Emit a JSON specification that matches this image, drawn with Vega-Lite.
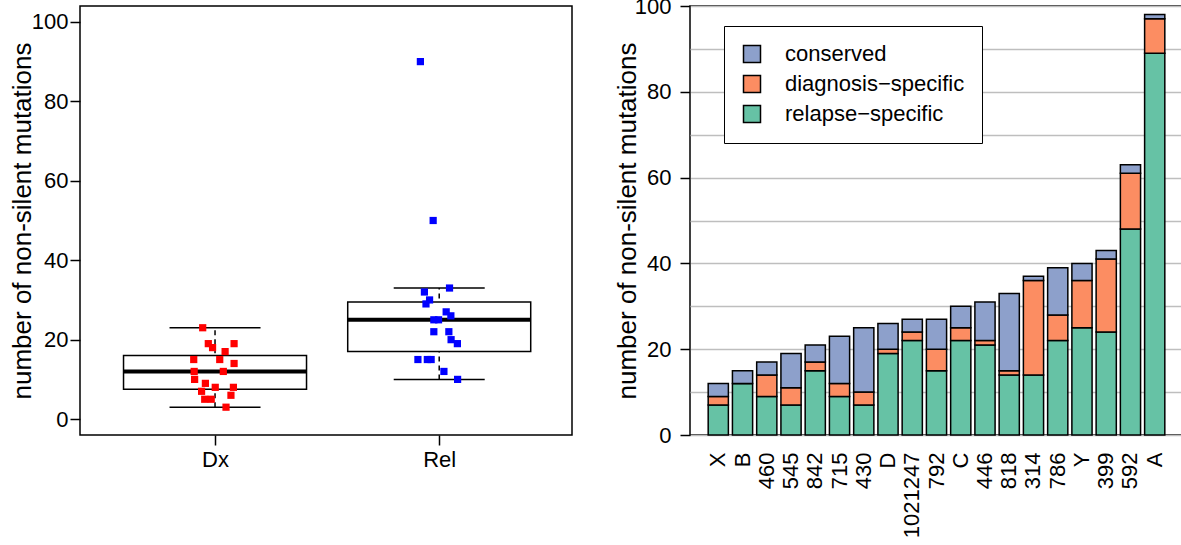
{
  "$schema": "https://vega.github.io/schema/vega-lite/v6.json",
  "background": "white",
  "padding": {"left": 8, "top": -6, "right": 0, "bottom": 0},
  "resolve": {"scale": {"color": "independent"}, "legend": {"color": "independent"}},
  "config": {
    "font": "Liberation Sans",
    "view": {"stroke": "black", "strokeWidth": 1.5},
    "concat": {"spacing": 40},
    "axis": {
      "labelFont": "Liberation Sans", "titleFont": "Liberation Sans",
      "labelFontSize": 22, "titleFontSize": 26, "titleFontWeight": "normal",
      "labelColor": "black", "titleColor": "black",
      "tickColor": "black", "tickSize": 10, "tickWidth": 1.5,
      "domain": false, "grid": false
    },
    "legend": {
      "labelFont": "Liberation Sans", "labelFontSize": 22, "labelColor": "black", "labelLimit": 0
    }
  },
  "datasets": {
    "pts": [
      {"group": "Dx", "x": 0.945, "n": 23}, {"group": "Dx", "x": 0.970, "n": 19},
      {"group": "Dx", "x": 0.989, "n": 18}, {"group": "Dx", "x": 1.085, "n": 19},
      {"group": "Dx", "x": 1.045, "n": 17}, {"group": "Dx", "x": 0.905, "n": 15},
      {"group": "Dx", "x": 1.021, "n": 15}, {"group": "Dx", "x": 1.085, "n": 14},
      {"group": "Dx", "x": 0.907, "n": 12}, {"group": "Dx", "x": 1.037, "n": 12},
      {"group": "Dx", "x": 0.909, "n": 10}, {"group": "Dx", "x": 0.957, "n": 9},
      {"group": "Dx", "x": 0.940, "n": 7}, {"group": "Dx", "x": 1.001, "n": 8},
      {"group": "Dx", "x": 1.082, "n": 8}, {"group": "Dx", "x": 1.071, "n": 6},
      {"group": "Dx", "x": 0.954, "n": 5}, {"group": "Dx", "x": 0.983, "n": 5},
      {"group": "Dx", "x": 1.049, "n": 3},
      {"group": "Rel", "x": 1.916, "n": 90}, {"group": "Rel", "x": 1.973, "n": 50},
      {"group": "Rel", "x": 2.046, "n": 33}, {"group": "Rel", "x": 1.934, "n": 32},
      {"group": "Rel", "x": 1.957, "n": 30}, {"group": "Rel", "x": 1.941, "n": 29},
      {"group": "Rel", "x": 2.031, "n": 27}, {"group": "Rel", "x": 2.052, "n": 26},
      {"group": "Rel", "x": 1.976, "n": 25}, {"group": "Rel", "x": 1.997, "n": 25},
      {"group": "Rel", "x": 1.976, "n": 22}, {"group": "Rel", "x": 2.043, "n": 22},
      {"group": "Rel", "x": 2.053, "n": 20}, {"group": "Rel", "x": 2.081, "n": 19},
      {"group": "Rel", "x": 1.905, "n": 15}, {"group": "Rel", "x": 1.947, "n": 15},
      {"group": "Rel", "x": 1.964, "n": 15}, {"group": "Rel", "x": 2.021, "n": 12},
      {"group": "Rel", "x": 2.082, "n": 10}
    ],
    "box": [
      {"group": "Dx", "x": 1, "lo": 3, "q1": 7.5, "med": 12, "q3": 16, "hi": 23},
      {"group": "Rel", "x": 2, "lo": 10, "q1": 17, "med": 25, "q3": 29.5, "hi": 33}
    ],
    "bars": [
      {"sample": "X", "type": "relapse-specific", "n": 7}, {"sample": "X", "type": "diagnosis-specific", "n": 2}, {"sample": "X", "type": "conserved", "n": 3},
      {"sample": "B", "type": "relapse-specific", "n": 12}, {"sample": "B", "type": "diagnosis-specific", "n": 0}, {"sample": "B", "type": "conserved", "n": 3},
      {"sample": "460", "type": "relapse-specific", "n": 9}, {"sample": "460", "type": "diagnosis-specific", "n": 5}, {"sample": "460", "type": "conserved", "n": 3},
      {"sample": "545", "type": "relapse-specific", "n": 7}, {"sample": "545", "type": "diagnosis-specific", "n": 4}, {"sample": "545", "type": "conserved", "n": 8},
      {"sample": "842", "type": "relapse-specific", "n": 15}, {"sample": "842", "type": "diagnosis-specific", "n": 2}, {"sample": "842", "type": "conserved", "n": 4},
      {"sample": "715", "type": "relapse-specific", "n": 9}, {"sample": "715", "type": "diagnosis-specific", "n": 3}, {"sample": "715", "type": "conserved", "n": 11},
      {"sample": "430", "type": "relapse-specific", "n": 7}, {"sample": "430", "type": "diagnosis-specific", "n": 3}, {"sample": "430", "type": "conserved", "n": 15},
      {"sample": "D", "type": "relapse-specific", "n": 19}, {"sample": "D", "type": "diagnosis-specific", "n": 1}, {"sample": "D", "type": "conserved", "n": 6},
      {"sample": "1021247", "type": "relapse-specific", "n": 22}, {"sample": "1021247", "type": "diagnosis-specific", "n": 2}, {"sample": "1021247", "type": "conserved", "n": 3},
      {"sample": "792", "type": "relapse-specific", "n": 15}, {"sample": "792", "type": "diagnosis-specific", "n": 5}, {"sample": "792", "type": "conserved", "n": 7},
      {"sample": "C", "type": "relapse-specific", "n": 22}, {"sample": "C", "type": "diagnosis-specific", "n": 3}, {"sample": "C", "type": "conserved", "n": 5},
      {"sample": "446", "type": "relapse-specific", "n": 21}, {"sample": "446", "type": "diagnosis-specific", "n": 1}, {"sample": "446", "type": "conserved", "n": 9},
      {"sample": "818", "type": "relapse-specific", "n": 14}, {"sample": "818", "type": "diagnosis-specific", "n": 1}, {"sample": "818", "type": "conserved", "n": 18},
      {"sample": "314", "type": "relapse-specific", "n": 14}, {"sample": "314", "type": "diagnosis-specific", "n": 22}, {"sample": "314", "type": "conserved", "n": 1},
      {"sample": "786", "type": "relapse-specific", "n": 22}, {"sample": "786", "type": "diagnosis-specific", "n": 6}, {"sample": "786", "type": "conserved", "n": 11},
      {"sample": "Y", "type": "relapse-specific", "n": 25}, {"sample": "Y", "type": "diagnosis-specific", "n": 11}, {"sample": "Y", "type": "conserved", "n": 4},
      {"sample": "399", "type": "relapse-specific", "n": 24}, {"sample": "399", "type": "diagnosis-specific", "n": 17}, {"sample": "399", "type": "conserved", "n": 2},
      {"sample": "592", "type": "relapse-specific", "n": 48}, {"sample": "592", "type": "diagnosis-specific", "n": 13}, {"sample": "592", "type": "conserved", "n": 2},
      {"sample": "A", "type": "relapse-specific", "n": 89}, {"sample": "A", "type": "diagnosis-specific", "n": 8}, {"sample": "A", "type": "conserved", "n": 1}
    ]
  },
  "hconcat": [
    {
      "width": 492,
      "height": 429,
      "layer": [
        {
          "data": {"name": "box"},
          "mark": {"type": "rule", "color": "black", "strokeWidth": 1.5, "strokeDash": [5, 4]},
          "encoding": {
            "x": {"field": "x", "type": "quantitative", "title": null,
                  "scale": {"domain": [0.42, 2.57], "nice": false, "zero": false},
                  "axis": {"values": [1, 2], "labelExpr": "datum.value == 1 ? 'Dx' : 'Rel'", "labelPadding": 4, "title": null}},
            "y": {"field": "lo", "type": "quantitative", "title": "number of non-silent mutations",
                  "scale": {"domain": [-4, 104], "nice": false, "zero": false},
                  "axis": {"values": [0, 20, 40, 60, 80, 100], "labelPadding": 2, "titlePadding": -4}},
            "y2": {"field": "hi"}
          }
        },
        {
          "data": {"name": "box"},
          "mark": {"type": "tick", "orient": "horizontal", "size": 91, "thickness": 1.5, "color": "black", "opacity": 1},
          "encoding": {
            "x": {"field": "x", "type": "quantitative", "title": null},
            "y": {"field": "lo", "type": "quantitative", "title": "number of non-silent mutations"}
          }
        },
        {
          "data": {"name": "box"},
          "mark": {"type": "tick", "orient": "horizontal", "size": 91, "thickness": 1.5, "color": "black", "opacity": 1},
          "encoding": {
            "x": {"field": "x", "type": "quantitative", "title": null},
            "y": {"field": "hi", "type": "quantitative", "title": "number of non-silent mutations"}
          }
        },
        {
          "data": {"name": "box"},
          "mark": {"type": "bar", "width": 183, "fill": "white", "stroke": "black", "strokeWidth": 1.5},
          "encoding": {
            "x": {"field": "x", "type": "quantitative", "title": null},
            "y": {"field": "q1", "type": "quantitative", "title": "number of non-silent mutations"},
            "y2": {"field": "q3"}
          }
        },
        {
          "data": {"name": "box"},
          "mark": {"type": "tick", "orient": "horizontal", "size": 183, "thickness": 4, "color": "black", "opacity": 1},
          "encoding": {
            "x": {"field": "x", "type": "quantitative", "title": null},
            "y": {"field": "med", "type": "quantitative", "title": "number of non-silent mutations"}
          }
        },
        {
          "data": {"name": "pts"},
          "mark": {"type": "point", "shape": "square", "filled": true, "size": 52, "opacity": 1},
          "encoding": {
            "x": {"field": "x", "type": "quantitative", "title": null},
            "y": {"field": "n", "type": "quantitative", "title": "number of non-silent mutations"},
            "color": {"field": "group", "type": "nominal",
                      "scale": {"domain": ["Dx", "Rel"], "range": ["#ff0000", "#0000ff"]},
                      "legend": null}
          }
        }
      ]
    },
    {
      "width": 493,
      "height": 429,
      "data": {"name": "bars"},
      "mark": {"type": "bar", "stroke": "black", "strokeWidth": 1.5},
      "encoding": {
        "x": {"field": "sample", "type": "nominal", "sort": null,
              "scale": {"paddingInner": 0.167, "paddingOuter": 0.75},
              "axis": {"title": null, "labelAngle": -90, "ticks": false, "labelPadding": 17}},
        "y": {"field": "n", "type": "quantitative", "stack": "zero",
              "scale": {"domain": [0, 100], "nice": false},
              "axis": {"values": [0, 10, 20, 30, 40, 50, 60, 70, 80, 90, 100],
                       "grid": true, "gridColor": "#bebebe", "gridWidth": 1.5,
                       "labelExpr": "datum.value % 20 === 0 ? datum.label : ''",
                       "tickOpacity": {"condition": {"test": "datum.value % 20 === 0", "value": 1}, "value": 0},
                       "labelPadding": 9, "titlePadding": -6,
                       "title": "number of non-silent mutations"}},
        "color": {"field": "type", "type": "nominal",
                  "scale": {"domain": ["conserved", "diagnosis-specific", "relapse-specific"],
                            "range": ["#8da0cb", "#fc8d62", "#66c2a5"]},
                  "legend": {"title": null, "orient": "none", "legendX": 34, "legendY": 20,
                             "padding": 17, "fillColor": "white", "strokeColor": "black",
                             "symbolType": "square", "symbolSize": 289, "symbolStrokeColor": "black",
                             "symbolStrokeWidth": 1.5, "symbolOpacity": 1, "rowPadding": 6, "labelOffset": 22,
                             "labelLimit": 0,
                             "labelExpr": "replace(datum.label, '-', '−')"}},
        "order": {"field": "type", "sort": "descending"}
      }
    }
  ]
}
